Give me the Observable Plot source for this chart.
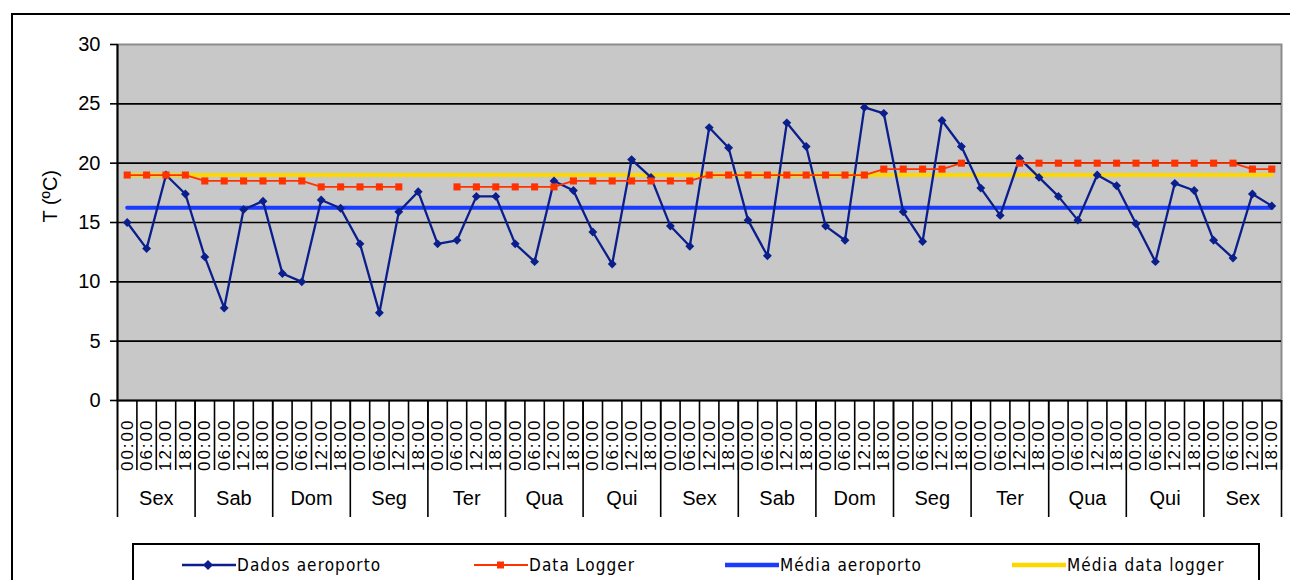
<!DOCTYPE html>
<html>
<head>
<meta charset="utf-8">
<script src="https://cdn.jsdelivr.net/npm/d3@7"></script>
<script src="https://cdn.jsdelivr.net/npm/@observablehq/plot@0.6"></script>
<style>
  html, body { margin: 0; padding: 0; background: #fff; width: 1290px; height: 580px; overflow: hidden; }
  #frame { position: absolute; left: 11px; top: 13px; width: 1279px; height: 570px;
           border-left: 2px solid #000; border-top: 2px solid #000; }
  #chart { position: absolute; left: 0; top: 0; }
  #legend { position: absolute; left: 119px; top: 528px; width: 1124px; height: 60px;
            border: 2px solid #000; background: #fff; }
  .item { position: absolute; top: 8px; height: 24px; display: flex; align-items: center; }
  .item svg { display: block; }
  .item span { font-family: 'Liberation Sans Narrow', 'DejaVu Sans Condensed', 'Liberation Sans', sans-serif;
               font-stretch: condensed; font-size: 17px; letter-spacing: 1.1px; color: #000; margin-left: 1px; white-space: nowrap; }
</style>
</head>
<body>
<div id="frame">
  <div id="chart"></div>
  <div id="legend"></div>
</div>
<script>
// ---- data ----
const days = ["Sex","Sab","Dom","Seg","Ter","Qua","Qui","Sex","Sab","Dom","Seg","Ter","Qua","Qui","Sex"];
const hours = ["00:00","06:00","12:00","18:00"];
const yTicks = [0,5,10,15,20,25,30];
const dadosAeroporto = [15.0,12.8,19.0,17.4,12.1,7.8,16.1,16.8,10.7,10.0,
                        16.9,16.2,13.2,7.4,15.9,17.6,13.2,13.5,17.2,17.2,
                        13.2,11.7,18.5,17.7,14.2,11.5,20.3,18.8,14.7,13.0,
                        23.0,21.3,15.2,12.2,23.4,21.4,14.7,13.5,24.7,24.2,
                        15.9,13.4,23.6,21.4,17.9,15.6,20.4,18.8,17.2,15.2,
                        19.0,18.1,14.9,11.7,18.3,17.7,13.5,12.0,17.4,16.4];
const dataLogger = [19.0,19.0,19.0,19.0,18.5,18.5,18.5,18.5,18.5,18.5,
                    18.0,18.0,18.0,18.0,18.0,null,null,18.0,18.0,18.0,
                    18.0,18.0,18.0,18.5,18.5,18.5,18.5,18.5,18.5,18.5,
                    19.0,19.0,19.0,19.0,19.0,19.0,19.0,19.0,19.0,19.5,
                    19.5,19.5,19.5,20.0,null,null,20.0,20.0,20.0,20.0,
                    20.0,20.0,20.0,20.0,20.0,20.0,20.0,20.0,19.5,19.5];
const mediaAeroporto = 16.25;
const mediaDataLogger = 19.0;
const seriesNames = ["Dados aeroporto","Data Logger","Média aeroporto","Média data logger"];
const colors = {dados:"#0b1f8c", logger:"#ff3300", mAero:"#1a3cff", mLogger:"#ffd700"};

// ---- derived ----
const n = days.length * hours.length;
const idx = d3.range(n);
const catBounds = d3.range(n + 1).map(i => i - 0.5);
const dayBounds = d3.range(days.length + 1).map(d => d * hours.length - 0.5);
const dayCenters = days.map((_, d) => d * hours.length + (hours.length - 1) / 2);

const FONT = "'Liberation Sans', Arial, sans-serif";

const chart = Plot.plot({
  width: 1277, height: 520,
  marginLeft: 104, marginRight: 9, marginTop: 29, marginBottom: 135,
  x: {type: "linear", domain: [-0.5, n - 0.5], axis: null},
  y: {domain: [0, 30], axis: null},
  style: {fontFamily: FONT, fontSize: "20px", color: "#000", background: "transparent", overflow: "visible"},
  marks: [
    Plot.frame({fill: "#c8c8c8", stroke: "#8c8c8c", strokeWidth: 2}),
    Plot.ruleY(yTicks.filter(v => v > 0 && v < 30), {stroke: "#000", strokeWidth: 1.6}),
    Plot.lineY(idx, {x: d => d, y: () => mediaAeroporto, stroke: colors.mAero, strokeWidth: 4}),
    Plot.lineY(idx, {x: d => d, y: () => mediaDataLogger, stroke: colors.mLogger, strokeWidth: 4}),
    Plot.lineY(idx, {x: d => d, y: i => dadosAeroporto[i], stroke: colors.dados, strokeWidth: 2.3}),
    Plot.dot(idx, {x: d => d, y: i => dadosAeroporto[i], symbol: "diamond2", r: 4, fill: colors.dados, stroke: "none"}),
    Plot.lineY(idx, {x: d => d, y: i => dataLogger[i], stroke: colors.logger, strokeWidth: 1.8}),
    Plot.dot(idx, {x: d => d, y: i => dataLogger[i], symbol: "square", r: 4, fill: colors.logger, stroke: "none"}),
    Plot.ruleX([-0.5], {stroke: "#000", strokeWidth: 2}),
    Plot.ruleY([0], {stroke: "#000", strokeWidth: 2}),
    Plot.axisY({ticks: yTicks, tickSize: 7, tickPadding: 10, fontSize: 20, label: null, strokeWidth: 1.6}),
    Plot.text(["T (ºC)"], {text: d => d, frameAnchor: "left", dx: -67, rotate: -90, fontSize: 20}),
    Plot.axisX({ticks: catBounds, tickSize: 70, tickFormat: () => "", label: null, strokeWidth: 1.6}),
    Plot.axisX({ticks: dayBounds, tickSize: 117, tickFormat: () => "", label: null, strokeWidth: 1.6}),
    Plot.axisX({ticks: idx, tickSize: 0, tickPadding: 18, tickRotate: -90, fontSize: 17,
                tickFormat: i => hours[i % hours.length], label: null}),
    Plot.axisX({ticks: dayCenters, tickSize: 0, tickPadding: 90, fontSize: 20,
                tickFormat: c => days[Math.floor(c / hours.length)], label: null})
  ]
});
document.getElementById("chart").appendChild(chart);
chart.querySelectorAll("text").forEach(t => {
  if (/^\d\d:\d\d$/.test(t.textContent)) t.setAttribute("letter-spacing", "2.0");
});

// ---- legend ----
const legend = document.getElementById("legend");
const items = [
  {name: seriesNames[0], left: 48, color: colors.dados, w: 2.3, marker: "diamond"},
  {name: seriesNames[1], left: 340, color: colors.logger, w: 2, marker: "square"},
  {name: seriesNames[2], left: 591, color: colors.mAero, w: 4.5, marker: null},
  {name: seriesNames[3], left: 878, color: colors.mLogger, w: 4.5, marker: null}
];
items.forEach(it => {
  const div = document.createElement("div");
  div.className = "item";
  div.style.left = it.left + "px";
  let mk = "";
  if (it.marker === "diamond") mk = `<path d="M26,7 L31,12 L26,17 L21,12 Z" fill="${it.color}"/>`;
  if (it.marker === "square") mk = `<rect x="23" y="8.5" width="7" height="7" fill="${it.color}"/>`;
  div.innerHTML = `<svg width="54" height="24"><line x1="0" x2="54" y1="12" y2="12" stroke="${it.color}" stroke-width="${it.w}"/>${mk}</svg><span>${it.name}</span>`;
  legend.appendChild(div);
});
</script>
</body>
</html>
